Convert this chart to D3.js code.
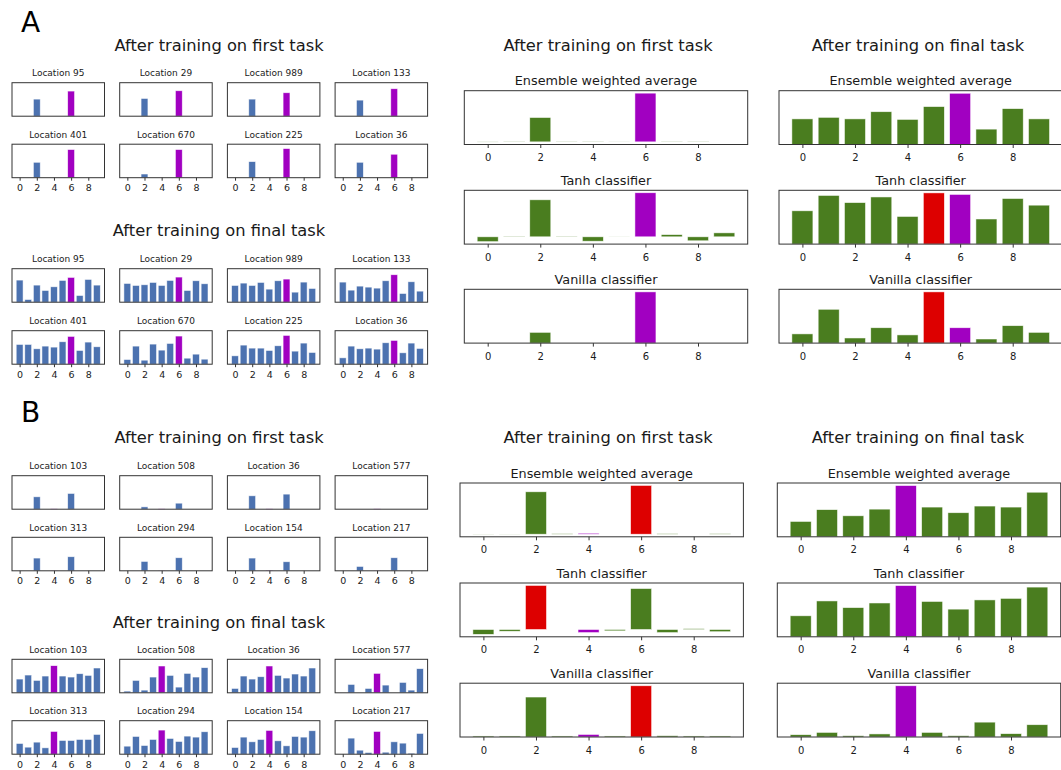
<!DOCTYPE html>
<html>
<head>
<meta charset="utf-8">
<script src="https://cdn.jsdelivr.net/npm/d3@7"></script>
<style>
  body { margin: 0; background: #fff; }
  svg { display: block; font-family: "DejaVu Sans", sans-serif; }
</style>
</head>
<body>
<svg id="fig" width="1061" height="770"></svg>
<script>
// ---------- data ----------
const classes = [0, 1, 2, 3, 4, 5, 6, 7, 8, 9];
const tickLabels = [0, 2, 4, 6, 8];

// Panel A: target class 6
const aTarget = 6;
const aLocations = [95, 29, 989, 133, 401, 670, 225, 36];
const aFirstLocal = [
  [0, 0, 0.51, 0, 0, 0, 0.75, 0, 0, 0],
  [0, 0, 0.53, 0, 0, 0, 0.76, 0, 0, 0],
  [0, 0, 0.51, 0, 0, 0, 0.70, 0, 0, 0],
  [0, 0, 0.48, 0, 0, 0, 0.82, 0, 0, 0],
  [0, 0, 0.46, 0, 0, 0, 0.84, 0, 0, 0],
  [0, 0, 0.11, 0, 0, 0, 0.84, 0, 0, 0],
  [0, 0, 0.48, 0, 0, 0, 0.87, 0, 0, 0],
  [0, 0, 0.46, 0, 0, 0, 0.70, 0, 0, 0]
];
const aFinalLocal = [
  [0.66, 0.08, 0.51, 0.35, 0.46, 0.65, 0.74, 0.20, 0.68, 0.51],
  [0.56, 0.50, 0.52, 0.59, 0.50, 0.65, 0.75, 0.35, 0.64, 0.55],
  [0.50, 0.57, 0.50, 0.59, 0.39, 0.64, 0.69, 0.30, 0.60, 0.41],
  [0.60, 0.36, 0.48, 0.45, 0.42, 0.64, 0.82, 0.26, 0.61, 0.33],
  [0.59, 0.59, 0.46, 0.54, 0.51, 0.67, 0.83, 0.41, 0.66, 0.52],
  [0.14, 0.54, 0.12, 0.60, 0.42, 0.62, 0.84, 0.18, 0.30, 0.15],
  [0.25, 0.57, 0.48, 0.48, 0.41, 0.55, 0.86, 0.39, 0.63, 0.35],
  [0.19, 0.54, 0.46, 0.48, 0.45, 0.64, 0.71, 0.34, 0.63, 0.47]
];
const aFirstEnsemble = [-0.004, 0.01, 0.50, 0.01, 0.01, 0.005, 1.00, 0.01, 0.01, 0];
const aFirstTanh     = [-0.11, 0.015, 0.84, 0.015, -0.10, 0.005, 1.00, 0.05, -0.09, 0.09];
const aFirstVanilla  = [0, 0, 0.21, 0, 0, 0, 1.00, 0, 0, 0];
const aFinalEnsemble = [0.50, 0.53, 0.50, 0.64, 0.49, 0.74, 1.00, 0.30, 0.70, 0.50];
const aFinalTanh     = [0.65, 0.95, 0.81, 0.92, 0.54, 1.00, 0.97, 0.49, 0.89, 0.76];
const aFinalVanilla  = [0.18, 0.66, 0.10, 0.30, 0.16, 1.00, 0.30, 0.08, 0.34, 0.21];

// Panel B: target class 4
const bTarget = 4;
const bLocations = [103, 508, 36, 577, 313, 294, 154, 217];
const bFirstLocal = [
  [0, 0, 0.37, 0, 0.01, 0, 0.47, 0, 0, 0],
  [0, 0, 0.07, 0, 0.01, 0, 0.18, 0, 0, 0],
  [0, 0, 0.40, 0, 0.01, 0, 0.45, 0, 0, 0],
  [0, 0, 0, 0, 0.01, 0, 0, 0, 0, 0],
  [0, 0, 0.38, 0, 0.01, 0, 0.42, 0, 0, 0],
  [0, 0, 0.28, 0, 0.01, 0, 0.39, 0, 0, 0],
  [0, 0, 0.38, 0, 0.02, 0, 0.27, 0, 0, 0],
  [0, 0, 0.13, 0, 0.01, 0, 0.39, 0, 0, 0]
];
const bFinalLocal = [
  [0.41, 0.53, 0.37, 0.50, 0.81, 0.50, 0.47, 0.57, 0.52, 0.74],
  [0.05, 0.37, 0.08, 0.47, 0.80, 0.52, 0.17, 0.58, 0.47, 0.75],
  [0.13, 0.50, 0.41, 0.48, 0.80, 0.52, 0.44, 0.56, 0.50, 0.74],
  [0, 0.25, 0, 0.13, 0.58, 0.23, 0, 0.31, 0.08, 0.72],
  [0.32, 0.21, 0.36, 0.19, 0.68, 0.41, 0.41, 0.44, 0.44, 0.59],
  [0.24, 0.53, 0.26, 0.44, 0.72, 0.47, 0.38, 0.54, 0.51, 0.67],
  [0.20, 0.51, 0.37, 0.44, 0.71, 0.40, 0.25, 0.53, 0.51, 0.70],
  [0, 0.48, 0.12, 0.05, 0.68, 0.06, 0.37, 0.33, 0.03, 0.62]
];
const bFirstEnsemble = [0.003, -0.003, 0.87, 0.01, 0.02, 0, 1.00, 0.01, 0, 0.01];
const bFirstTanh     = [-0.11, -0.04, 1.00, 0, -0.07, -0.03, 0.93, -0.07, 0.02, -0.05];
const bFirstVanilla  = [0.02, 0.02, 0.78, 0.02, 0.05, 0.02, 1.00, 0.025, 0.02, 0.02];
const bFinalEnsemble = [0.30, 0.53, 0.41, 0.54, 1.00, 0.58, 0.47, 0.60, 0.58, 0.87];
const bFinalTanh     = [0.41, 0.70, 0.57, 0.66, 1.00, 0.69, 0.54, 0.72, 0.75, 0.97];
const bFinalVanilla  = [0.045, 0.09, 0.025, 0.06, 1.00, 0.09, 0.025, 0.29, 0.065, 0.24];

const classifierTitles = ["Ensemble weighted average", "Tanh classifier", "Vanilla classifier"];
const headerFirst = "After training on first task";
const headerFinal = "After training on final task";

// ---------- style ----------
const COL = { local: "#4c72b0", ens: "#4a7d1f", target: "#a100c1", wrong: "#dd0000",
              spine: "#333333", text: "#1a1a1a" };
const BAR_W = 0.8;
const FONT = '"DejaVu Sans", sans-serif';

// matplotlib-style x limits: bar extents plus 5% margin
const xLo = d3.min(classes) - BAR_W / 2, xHi = d3.max(classes) + BAR_W / 2;
const xPad = 0.05 * (xHi - xLo);
const xDomain = [xLo - xPad, xHi + xPad];

// y limits: 5% margins, baseline pinned when no value is negative
function autoY(values) {
  const lo = Math.min(0, d3.min(values)), hi = Math.max(0, d3.max(values));
  const span = hi - lo;
  return [lo < 0 ? lo - 0.05 * span : 0, hi + 0.05 * span];
}

const svg = d3.select("#fig");

function barChart(cfg) {
  const g = svg.append("g");
  const xs = d3.scaleLinear().domain(xDomain).range([cfg.x, cfg.x + cfg.w]);
  const ys = d3.scaleLinear().domain(cfg.yDomain).range([cfg.y + cfg.h, cfg.y]);

  g.selectAll("rect.bar").data(cfg.values).join("rect")
    .attr("class", "bar")
    .attr("x", (d, i) => xs(classes[i] - BAR_W / 2))
    .attr("width", xs(BAR_W) - xs(0))
    .attr("y", d => ys(Math.max(0, d)))
    .attr("height", d => Math.abs(ys(d) - ys(0)))
    .attr("fill", (d, i) => cfg.colorOf(i))
    .attr("stroke", "#ffffff")
    .attr("stroke-opacity", 0.75)
    .attr("stroke-width", 0.7);

  g.append("rect")
    .attr("x", cfg.x).attr("y", cfg.y).attr("width", cfg.w).attr("height", cfg.h)
    .attr("fill", "none").attr("stroke", COL.spine).attr("stroke-width", 1);

  if (cfg.showTicks) {
    const ax = g.append("g")
      .attr("transform", `translate(0,${cfg.y + cfg.h})`)
      .call(d3.axisBottom(xs).tickValues(tickLabels).tickSize(cfg.tickSize).tickPadding(cfg.tickPad));
    ax.select(".domain").remove();
    ax.selectAll("line").attr("stroke", COL.spine);
    ax.selectAll("text").attr("font-size", cfg.tickFont).attr("font-family", FONT).attr("fill", COL.text);
  }

  g.append("text")
    .attr("x", cfg.x + cfg.w / 2).attr("y", cfg.y - cfg.titleGap)
    .attr("text-anchor", "middle").attr("font-size", cfg.titleFont)
    .attr("fill", COL.text).text(cfg.title);
}

function header(x, y, text) {
  svg.append("text").attr("x", x).attr("y", y).attr("text-anchor", "middle")
    .attr("font-size", 16.3).attr("fill", COL.text).text(text);
}

// 4x2 grid of per-location predictions
function localGrid(rowTops, locations, data, target) {
  const colX0 = 12, colPitch = 107.7, w = 92.5, h = 33.5;
  data.forEach((vals, k) => {
    const r = Math.floor(k / 4), c = k % 4;
    barChart({
      x: colX0 + c * colPitch, y: rowTops[r], w, h,
      values: vals, yDomain: [0, 1],
      colorOf: i => classes[i] === target ? COL.target : COL.local,
      showTicks: r === 1, tickSize: 3, tickPad: 3.6, tickFont: 9.5,
      title: "Location " + locations[k], titleFont: 9, titleGap: 6.3
    });
  });
}

// column of three classifier read-outs
function classifierColumn(x, tops, series, target) {
  series.forEach((vals, k) => {
    const top = d3.maxIndex(vals);
    barChart({
      x, y: tops[k], w: 283.4, h: 53.8,
      values: vals, yDomain: autoY(vals),
      colorOf: i => classes[i] === target ? COL.target : (i === top ? COL.wrong : COL.ens),
      showTicks: true, tickSize: 3.5, tickPad: 6, tickFont: 10,
      title: classifierTitles[k], titleFont: 12.8, titleGap: 5.5
    });
  });
}

// ---------- panel A ----------
svg.append("text").attr("x", 21).attr("y", 32).attr("font-size", 28).attr("fill", "#000").text("A");
header(219, 51, headerFirst);
header(219, 236, headerFinal);
header(608, 51, headerFirst);
header(918, 51, headerFinal);
localGrid([82.7, 144.2], aLocations, aFirstLocal, aTarget);
localGrid([268.7, 330.7], aLocations, aFinalLocal, aTarget);
classifierColumn(464.3, [90.7, 190.3, 289.3], [aFirstEnsemble, aFirstTanh, aFirstVanilla], aTarget);
classifierColumn(779, [90.7, 190.3, 289.3], [aFinalEnsemble, aFinalTanh, aFinalVanilla], aTarget);

// ---------- panel B ----------
svg.append("text").attr("x", 21).attr("y", 422).attr("font-size", 28).attr("fill", "#000").text("B");
header(219, 443, headerFirst);
header(219, 628, headerFinal);
header(608, 443, headerFirst);
header(918, 443, headerFinal);
localGrid([475.7, 537.3], bLocations, bFirstLocal, bTarget);
localGrid([659.3, 720.7], bLocations, bFinalLocal, bTarget);
classifierColumn(460, [483, 583, 683.2], [bFirstEnsemble, bFirstTanh, bFirstVanilla], bTarget);
classifierColumn(777.3, [483, 583, 683.2], [bFinalEnsemble, bFinalTanh, bFinalVanilla], bTarget);
</script>
</body>
</html>
